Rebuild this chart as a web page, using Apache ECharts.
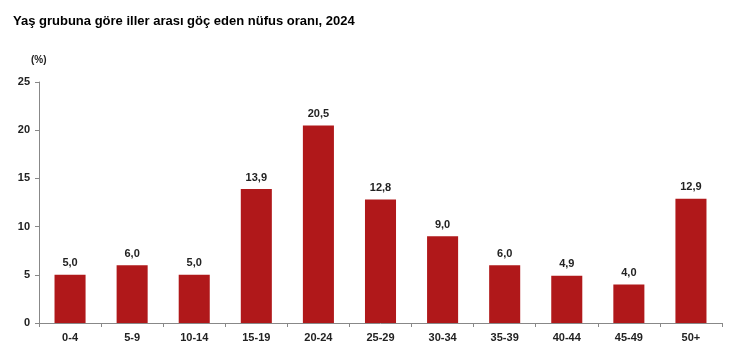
<!DOCTYPE html>
<html>
<head>
<meta charset="utf-8">
<script src="https://cdn.jsdelivr.net/npm/echarts@6/dist/echarts.min.js"></script>
<style>
  html, body { margin: 0; padding: 0; background: #fff; }
  #chart { width: 747px; height: 353px; }
</style>
</head>
<body>
<div id="chart"></div>
<script>
// veriler
const categories = ['0-4', '5-9', '10-14', '15-19', '20-24', '25-29', '30-34', '35-39', '40-44', '45-49', '50+'];
const values = [5.0, 6.0, 5.0, 13.9, 20.5, 12.8, 9.0, 6.0, 4.9, 4.0, 12.9];

(function () {
    let myChart = echarts.init(document.getElementById('chart'));
    let option = {
        animation: false,
        textStyle: { fontFamily: 'Liberation Sans, Arial, sans-serif' },
        title: {
            text: 'Yaş grubuna göre iller arası göç eden nüfus oranı, 2024',
            left: 8,
            top: 10,
            textStyle: { fontSize: 13, fontWeight: 'bold', color: '#000' }
        },
        graphic: [{
            type: 'text',
            left: 31,
            top: 55,
            style: { text: '(%)', font: 'bold 10px Liberation Sans, Arial', fill: '#222' }
        }],
        grid: { left: 39, right: 25, top: 82, bottom: 30, containLabel: false },
        xAxis: {
            type: 'category',
            data: categories,
            axisLine: { lineStyle: { color: '#888' } },
            axisTick: { show: true, alignWithLabel: false, length: 4, inside: false, lineStyle: { color: '#888' } },
            axisLabel: { color: '#222', fontWeight: 'bold', fontSize: 11, margin: 9 }
        },
        yAxis: {
            type: 'value',
            min: 0,
            max: 25,
            interval: 5,
            axisLine: { show: true, lineStyle: { color: '#888' } },
            axisTick: { show: true, length: 4, lineStyle: { color: '#888' } },
            splitLine: { show: false },
            axisLabel: { color: '#222', fontWeight: 'bold', fontSize: 11, margin: 9 }
        },
        series: [{
            type: 'bar',
            data: values,
            barWidth: '50%',
            itemStyle: { color: '#B0181A' },
            label: {
                show: true,
                position: 'top',
                distance: 6,
                color: '#222',
                fontWeight: 'bold',
                fontSize: 11,
                formatter: function (p) { return p.value.toFixed(1).replace('.', ','); }
            }
        }]
    };
    myChart.setOption(option);
    window.addEventListener('resize', function () { myChart.resize(); });
})();
</script>
</body>
</html>
